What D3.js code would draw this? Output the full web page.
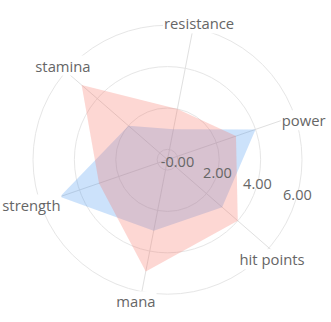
<!DOCTYPE html>
<html lang="en">
<head>
    <meta charset="UTF-8">
    <title>Radar</title>
    <script src="https://d3js.org/d3.v7.min.js"></script>
    <style>
        body { margin: 0; background: #fff; }
        text { font-family: "Open Sans", sans-serif; fill: #666; }
        .grid { fill: none; stroke: #e6e6e6; stroke-width: 1; }
        .axis-line { stroke: #e0e0e0; stroke-width: 1; }
    </style>
</head>
<body>
    <div id="container"></div>
    <script>
        const categories = ["power", "resistance", "stamina", "strength", "mana", "hit points"];
        const seriesRed = [3, 2, 5, 3, 5, 4];
        const seriesBlue = [4, 1, 2, 5, 3, 3];
        const tickValues = [0, 2, 4, 6];
        const tickLabels = ["-0.00", "2.00", "4.00", "6.00"];

        const width = 331, height = 322;
        const cx = 167.5, cy = 159.7;
        const radius = 134.5;
        const startAngle = 71; // degrees clockwise from up, for the first category

        const r = d3.scaleLinear().domain([-0.5, 6]).range([0, radius]);
        const angle = i => (startAngle - 60 * i) * Math.PI / 180;

        const svg = d3.select("#container")
            .append("svg")
            .attr("width", width)
            .attr("height", height);

        const g = svg.append("g")
            .attr("transform", `translate(${cx},${cy})`);

        // rings
        g.selectAll("circle.grid")
            .data(tickValues)
            .enter()
            .append("circle")
            .attr("class", "grid")
            .attr("r", d => r(d));

        // spokes
        g.selectAll("line.axis-line")
            .data(categories)
            .enter()
            .append("line")
            .attr("class", "axis-line")
            .attr("x1", 0).attr("y1", 0)
            .attr("x2", (d, i) => Math.sin(angle(i)) * (radius + 4))
            .attr("y2", (d, i) => -Math.cos(angle(i)) * (radius + 4));

        // series polygons (red drawn over blue)
        const line = d3.lineRadial()
            .angle((d, i) => angle(i))
            .radius(d => r(d))
            .curve(d3.curveLinearClosed);

        g.append("path")
            .datum(seriesBlue)
            .attr("d", line)
            .attr("fill", "rgb(50,140,240)")
            .attr("fill-opacity", 0.25);

        g.append("path")
            .datum(seriesRed)
            .attr("d", line)
            .attr("fill", "rgb(247,110,98)")
            .attr("fill-opacity", 0.28);

        // tick labels along a fixed direction
        const tickAngle = 105 * Math.PI / 180;
        g.selectAll("text.tick")
            .data(tickValues)
            .enter()
            .append("text")
            .attr("class", "tick")
            .attr("x", d => Math.sin(tickAngle) * Math.max(r(d), 7))
            .attr("y", d => -Math.cos(tickAngle) * Math.max(r(d), 7))
            .attr("dy", "0.35em")
            .attr("text-anchor", "middle")
            .style("font-size", "14.5px")
            .text((d, i) => tickLabels[i]);

        // category labels with white backing
        const labelR = radius + 8;
        const labelTurn = 1.8 * Math.PI / 180;
        const labels = g.selectAll("g.label")
            .data(categories)
            .enter()
            .append("g")
            .attr("class", "label")
            .attr("transform", (d, i) => {
                const a = angle(i) + labelTurn;
                return `translate(${Math.sin(a) * labelR},${-Math.cos(a) * labelR + 3.5})`;
            });

        labels.append("rect").attr("fill", "#fff");
        labels.append("text")
            .attr("dy", "0.35em")
            .attr("text-anchor", "middle")
            .style("font-size", "14.8px")
            .text(d => d);

        labels.each(function() {
            const b = d3.select(this).select("text").node().getBBox();
            d3.select(this).select("rect")
                .attr("x", b.x - 1).attr("y", b.y)
                .attr("width", b.width + 2).attr("height", b.height);
        });
    </script>
</body>
</html>
